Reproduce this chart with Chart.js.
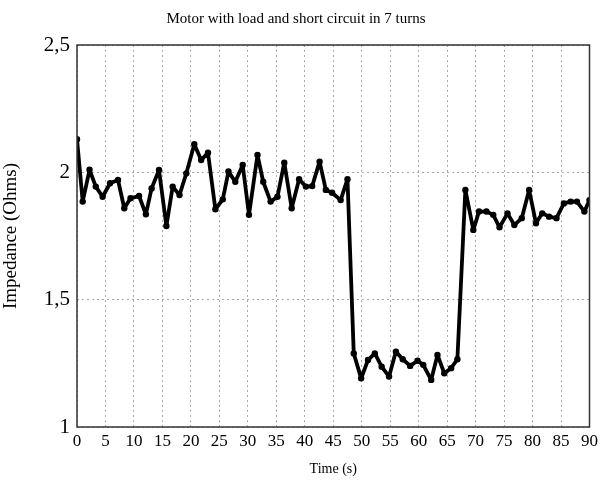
<!DOCTYPE html>
<html>
<head>
<meta charset="utf-8">
<script src="https://cdn.jsdelivr.net/npm/chart.js@4"></script>
<style>
  body { margin: 0; background: #fff; }
  #wrap { width: 602px; height: 482px; }
</style>
</head>
<body>
<div id="wrap"><canvas id="impChart" width="602" height="482"></canvas></div>
<script>
// readings taken off the trace (seconds, ohms)
const times = [0, 1.0, 2.2, 3.3, 4.5, 5.8, 7.2, 8.3, 9.4, 10.9, 12.1, 13.1, 14.4, 15.7, 16.8, 18.0, 19.2,
  20.6, 21.8, 23.0, 24.3, 25.6, 26.6, 27.8, 29.1, 30.2, 31.7, 32.7, 34.0, 35.2, 36.4, 37.7, 39.0, 40.2,
  41.3, 42.6, 43.7, 44.8, 46.3, 47.5, 48.6, 49.9, 51.1, 52.3, 53.5, 54.8, 56.0, 57.2, 58.5, 59.8, 60.8,
  62.2, 63.3, 64.5, 65.7, 66.8, 68.2, 69.6, 70.6, 71.9, 73.1, 74.2, 75.6, 76.8, 78.1, 79.4, 80.6, 81.7,
  82.9, 84.2, 85.5, 86.7, 87.8, 89.1, 90];
const impedance = [2.13, 1.885, 2.01, 1.944, 1.904, 1.957, 1.97, 1.859, 1.898, 1.907, 1.835, 1.937, 2.009, 1.789, 1.944, 1.911, 1.996,
  2.11, 2.048, 2.077, 1.855, 1.894, 2.003, 1.963, 2.029, 1.833, 2.068, 1.963, 1.885, 1.904, 2.038, 1.859, 1.973, 1.944,
  1.946, 2.042, 1.931, 1.92, 1.891, 1.973, 1.289, 1.191, 1.263, 1.289, 1.237, 1.198, 1.296, 1.266, 1.24, 1.26, 1.244,
  1.185, 1.283, 1.211, 1.231, 1.266, 1.931, 1.774, 1.846, 1.846, 1.833, 1.784, 1.839, 1.793, 1.82, 1.931, 1.8, 1.839,
  1.826, 1.82, 1.878, 1.885, 1.885, 1.846, 1.891];
const yTicks = [1, 1.5, 2, 2.5];

const serif = "'Liberation Serif', 'Times New Roman', serif";

const frame = {
  id: 'frame',
  afterDraw(chart) {
    const { ctx, chartArea: a } = chart;
    ctx.save();
    ctx.strokeStyle = '#333';
    ctx.lineWidth = 1.5;
    ctx.strokeRect(a.left, a.top, a.right - a.left, a.bottom - a.top);
    ctx.restore();
  }
};

new Chart(document.getElementById('impChart'), {
  type: 'line',
  data: {
    datasets: [{
      data: times.map((t, i) => ({ x: t, y: impedance[i] })),
      borderColor: '#000',
      backgroundColor: '#000',
      borderWidth: 3.8,
      borderJoinStyle: 'round',
      borderCapStyle: 'round',
      pointRadius: 3.2,
      pointBorderWidth: 0,
      pointHoverRadius: 3.2,
      tension: 0
    }]
  },
  options: {
    responsive: false,
    animation: false,
    layout: { padding: { top: 0, right: 10, left: 0, bottom: 0 } },
    plugins: {
      legend: { display: false },
      tooltip: { enabled: false },
      title: {
        display: true,
        text: 'Motor with load and short circuit in 7 turns',
        color: '#000',
        font: { family: serif, size: 15, weight: 'normal' },
        padding: { top: 10, bottom: 17 }
      }
    },
    scales: {
      x: {
        type: 'linear',
        min: 0, max: 90,
        ticks: { stepSize: 5, color: '#000', font: { family: serif, size: 17 }, padding: 4, maxRotation: 0, autoSkip: false },
        grid: { color: '#aaa', drawTicks: false, lineWidth: 1 },
        border: { display: false, dash: [2, 3] },
        title: { display: true, text: 'Time (s)', color: '#000', font: { family: serif, size: 14 }, padding: { top: 3 } },
        afterFit(s) { s.height = 55; }
      },
      y: {
        min: 1, max: 2.5,
        afterBuildTicks(s) { s.ticks = yTicks.map(v => ({ value: v })); },
        ticks: {
          color: '#000', font: { family: serif, size: 21 }, padding: 7,
          callback: v => String(v).replace('.', ',')
        },
        grid: { color: '#aaa', drawTicks: false, lineWidth: 1 },
        border: { display: false, dash: [2, 3] },
        title: { display: true, text: 'Impedance (Ohms)', color: '#000', font: { family: serif, size: 19 }, padding: 0 },
        afterFit(s) { s.width = 77; }
      }
    }
  },
  plugins: [frame]
});
</script>
</body>
</html>
